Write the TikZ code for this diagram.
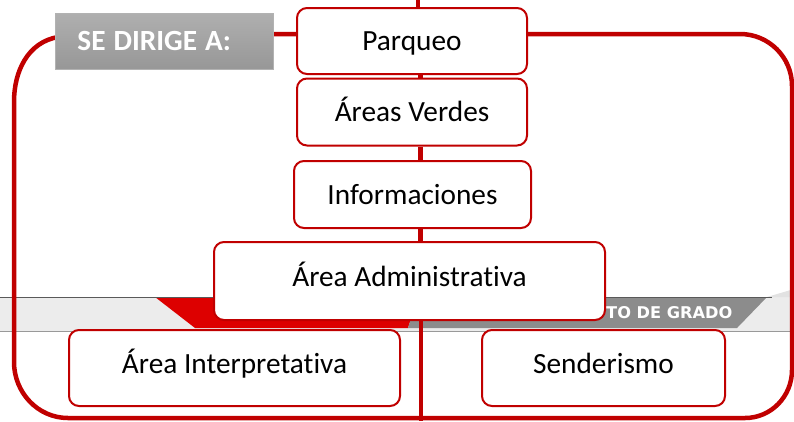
\documentclass[tikz,border=0pt]{standalone}
\usepackage{fontspec}
\setmainfont{Carlito}[Ligatures=NoCommon]
\newfontfamily\bandfont{DejaVu Sans}
\usetikzlibrary{calc}
\definecolor{frred}{HTML}{C00000}
\definecolor{bandred}{HTML}{DD0000}
\definecolor{banddark}{HTML}{8C8C8C}
\definecolor{bandlight}{HTML}{ECECEC}
\definecolor{bandpale}{HTML}{E2E2E2}
\definecolor{dirtop}{HTML}{AFAFAF}
\definecolor{dirbot}{HTML}{979797}
\begin{document}
\begin{tikzpicture}[x=1pt,y=-1pt,
  boxnode/.style={draw=frred, line width=2pt, fill=white, rounded corners=10pt,
    inner sep=0pt, text height=20pt, text depth=1pt,
    font=\fontsize{29.3}{34}\selectfont},
  lowtext/.style={text depth=10pt},
  conn/.style={draw=frred, line width=4.5pt},
  framestyle/.style={draw=frred, line width=4.5pt},
]
\useasboundingbox (0,0) rectangle (794,421);
% background band of the page behind
\fill[bandlight] (0,297) rectangle (794,331);
\fill[bandred] (155,297) -- (418,297) -- (408,328) -- (195,328) -- cycle;
\fill[banddark] (418,297) -- (767,297) -- (737,328) -- (408,328) -- cycle;
\fill[bandpale] (767,297) -- (794,289) -- (794,297) -- cycle;
\draw[black!65, line width=1pt] (0,297) -- (772,297);
\draw[black!40, line width=0.8pt] (0,331) -- (794,331);
\node[text=white, font=\bandfont\bfseries\fontsize{16.2}{18}\selectfont, anchor=west, inner sep=0pt] (band) at (606,313) {TO DE GRADO};
% outer frame
\draw[framestyle] (58,37) to[out=190,in=90] (14,102) -- (14,362)
  to[out=-90,in=180] (68,418) -- (745,418) to[out=0,in=-90] (792,370)
  -- (792,86) to[out=90,in=0] (740,34) -- (260,34);
% boxes
\node[boxnode, minimum width=230pt, minimum height=66pt] (parqueo) at (412,41) {Parqueo};
\node[boxnode, minimum width=230pt, minimum height=67pt] (verdes) at (412,112) {Áreas Verdes};
\node[boxnode, minimum width=237pt, minimum height=67pt] (info) at (412.5,194.5) {Informaciones};
\node[boxnode, lowtext, minimum width=391pt, minimum height=78pt] (admin) at (409.5,281) {Área Administrativa};
\node[boxnode, lowtext, minimum width=331pt, minimum height=76pt] (interp) at (234.5,368) {Área Interpretativa};
\node[boxnode, lowtext, minimum width=243pt, minimum height=76pt] (send) at (603.5,368) {Senderismo};
% trunk
\coordinate (tka) at (418,0);
\coordinate (tk) at (420.5,0);
\coordinate (tkb) at (421,421);
\draw[conn] (tka) -- (parqueo.north -| tka);
\draw[conn] (parqueo.south -| tk) -- (verdes.north -| tk);
\draw[conn] (verdes.south -| tk) -- (info.north -| tk);
\draw[conn] (info.south -| tk) -- (admin.north -| tk);
\draw[conn] (admin.south -| tkb) -- (tkb);
% title box
\node[draw=black!30, line width=0.8pt, top color=dirtop, bottom color=dirbot,
  anchor=north west, minimum width=218pt, minimum height=56pt,
  inner xsep=22pt, inner ysep=0pt, text width=174pt, align=left,
  text=white, font=\bfseries\fontsize{29.3}{34}\selectfont] (dirige) at (55,13) {SE\hspace{8pt}DIRIGE\hspace{8pt}A:};
\end{tikzpicture}
\end{document}
